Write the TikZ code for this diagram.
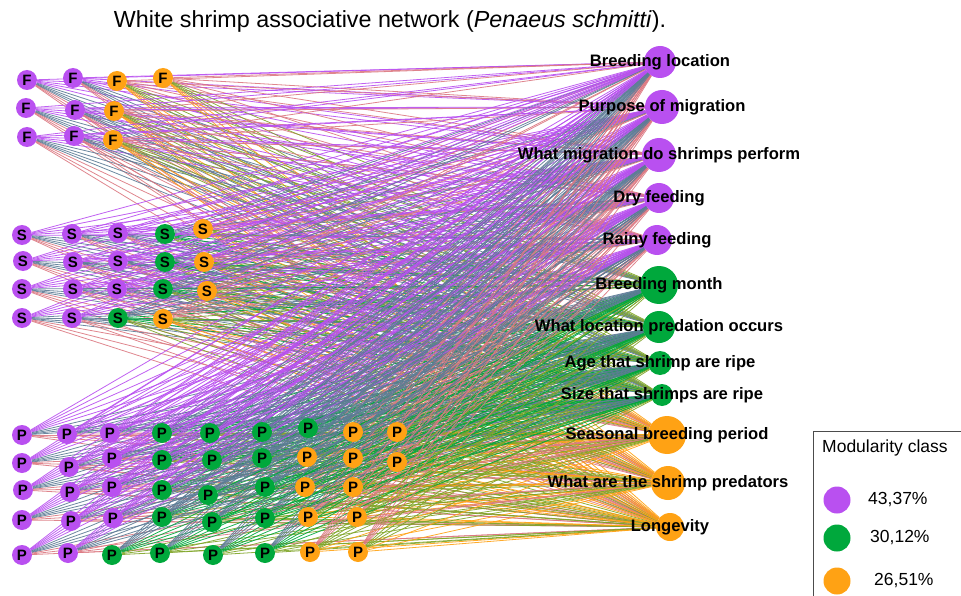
\documentclass[tikz,border=0pt]{standalone}
\usepackage{fontspec}
\setmainfont{Liberation Sans}

\definecolor{purp}{RGB}{185,80,240}
\definecolor{grn}{RGB}{0,168,60}
\definecolor{orng}{RGB}{255,162,20}

\pgfdeclarelayer{edges}
\pgfsetlayers{edges,main}

\tikzset{
    resp/.style={circle, fill=#1, inner sep=0pt, minimum size=20pt,
        font=\bfseries\fontsize{15}{15}\selectfont},
    quest/.style={circle, fill=#1, inner sep=0pt},
    qlabel/.style={inner sep=0pt, font=\bfseries\fontsize{16.6}{16.6}\selectfont},
    link/.style={line width=0.8pt, opacity=0.9},
    legdot/.style={circle, fill=#1, inner sep=0pt, minimum size=27pt},
    legtext/.style={anchor=west, inner sep=0pt, font=\fontsize{17.5}{17.5}\selectfont},
}

% answers (left): x/y/letter/class
\def\resplist{
    27/80/F/purp, 73/78/F/purp, 117/81/F/orng, 163/78/F/orng,
    26/108/F/purp, 75/110/F/purp, 114/111/F/orng,
    27/137/F/purp, 74/136/F/purp, 113/140/F/orng,
    22/235/S/purp, 72/234/S/purp, 118/233/S/purp, 165/234/S/grn, 203/229/S/orng,
    23/261/S/purp, 73/262/S/purp, 118/261/S/purp, 165/262/S/grn, 204/262/S/orng,
    22/289/S/purp, 73/289/S/purp, 117/289/S/purp, 163/289/S/grn, 207/291/S/orng,
    22/318/S/purp, 72/318/S/purp, 118/318/S/grn, 163/319/S/orng,
    22/435/P/purp, 67/434/P/purp, 110/433/P/purp, 162/433/P/grn, 210/433/P/grn,
    262/432/P/grn, 308/428/P/grn, 353/432/P/orng, 397/432/P/orng,
    22/463/P/purp, 69/467/P/purp, 112/458/P/purp, 162/460/P/grn, 212/460/P/grn,
    262/458/P/grn, 307/457/P/orng, 353/458/P/orng, 397/462/P/orng,
    23/490/P/purp, 70/492/P/purp, 112/487/P/purp, 162/490/P/grn, 208/495/P/grn,
    265/487/P/grn, 305/487/P/orng, 353/487/P/orng,
    22/520/P/purp, 71/521/P/purp, 113/518/P/purp, 162/517/P/grn, 212/522/P/grn,
    265/518/P/grn, 308/517/P/orng, 357/517/P/orng,
    22/555/P/purp, 68/553/P/purp, 112/555/P/grn, 160/553/P/grn, 213/555/P/grn,
    265/553/P/grn, 310/552/P/orng, 358/552/P/orng}

% questions (right): name/x/y/radius/class/text
\def\questlist{
    q1/660/62/16/purp/Breeding location,
    q2/662/107/17/purp/Purpose of migration,
    q3/659/155/17/purp/What migration do shrimps perform,
    q4/659/198/15/purp/Dry feeding,
    q5/657/240/15/purp/Rainy feeding,
    q6/659/285/19/grn/Breeding month,
    q7/659/327/16/grn/What location predation occurs,
    q8/660/363/12/grn/Age that shrimp are ripe,
    q9/662/395/11/grn/Size that shrimps are ripe,
    q10/667/435/19/orng/Seasonal breeding period,
    q11/668/483/17/orng/What are the shrimp predators,
    q12/670/527/14/orng/Longevity}

\begin{document}
\begin{tikzpicture}[x=1pt, y=-1pt]
    \useasboundingbox (0,0) rectangle (961,596);
    \clip (0,0) rectangle (961,596);

    \node[anchor=base, inner sep=0pt, font=\fontsize{23.3}{23.3}\selectfont] (title) at (390,28)
        {White shrimp associative network (\textit{Penaeus schmitti}).};

    \foreach \n/\x/\y/\r/\c/\t in \questlist {
        \node[quest=\c, minimum size=\r*2pt] (\n) at (\x,\y) {};
        \node[qlabel] (\n-text) at (\n) {\t};
    }

    \foreach \x/\y/\t/\c [count=\i] in \resplist
        \node[resp=\c] (l\i) at (\x,\y) {\t};

    \begin{pgfonlayer}{edges}
        \foreach \x/\y/\t/\c [count=\i] in \resplist
            \foreach \n/\qx/\qy/\r/\d/\qt in \questlist
                \draw[link, draw=\c!50!\d] (l\i) -- (\n);
    \end{pgfonlayer}

    % legend
    \draw[gray!60!black, line width=0.8pt] (813,431) -- (970,431)
        (813,431) -- (813,610);
    \node[legtext] (legtitle) at (822,448) {Modularity\ class};
    \node[legdot=purp] (k1) at (837,500) {};
    \node[legdot=grn]  (k2) at (837,538) {};
    \node[legdot=orng] (k3) at (837,581) {};
    \node[legtext] (k1-text) at (868,500) {43,37\%};
    \node[legtext] (k2-text) at (870,538) {30,12\%};
    \node[legtext] (k3-text) at (874,581) {26,51\%};
\end{tikzpicture}
\end{document}
